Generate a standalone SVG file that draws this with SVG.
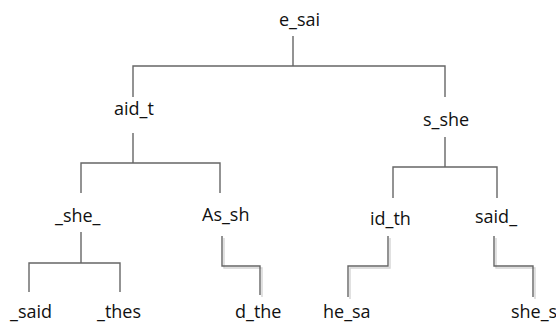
<svg xmlns="http://www.w3.org/2000/svg" width="556" height="324" viewBox="0 0 556 324">
<style>
.t{font-family:"Open Sans","Liberation Sans",sans-serif;font-size:18px;fill:#111}
.c{fill:none;stroke:#666;stroke-width:1.4}
.s{fill:none;stroke:#d4d4d4;stroke-width:1.4}
</style>
<rect width="556" height="324" fill="#fff"/>
<g id="connectors">
<path class="c" d="M293,36V66M133,97V66H445V97"/>
<path class="c" d="M133,133V163M81,193V163H220V193"/>
<path class="c" d="M445,137V167M393,198V167H497V198"/>
<path class="c" d="M81,232V263M29,292V263H120V292"/>
<path class="s" d="M224,238V268H262V297"/>
<path class="c" d="M222,236V266H260V295"/>
<path class="s" d="M390,238V268H350V299"/>
<path class="c" d="M388,236V266H348V297"/>
<path class="s" d="M496,238V268H535V299"/>
<path class="c" d="M494,236V266H533V297"/>
</g>
<g id="n_e_sai"><text class="t" x="279" y="26">e_sai</text></g>
<g id="n_aid_t"><text class="t" x="114" y="115">aid_t</text></g>
<g id="n_s_she"><text class="t" x="423" y="126">s_she</text></g>
<g id="n_she_"><text class="t" x="55" y="222">_she_</text></g>
<g id="n_As_sh"><text class="t" x="202" y="221">As_sh</text></g>
<g id="n_id_th"><text class="t" x="370" y="225">id_th</text></g>
<g id="n_said_"><text class="t" x="475" y="223">said_</text></g>
<g id="n__said"><text class="t" x="10" y="318">_said</text></g>
<g id="n__thes"><text class="t" x="97" y="318">_thes</text></g>
<g id="n_d_the"><text class="t" x="235" y="318">d_the</text></g>
<g id="n_he_sa"><text class="t" x="323" y="318">he_sa</text></g>
<g id="n_she_s"><text class="t" x="511" y="318">she_s</text></g>
</svg>
